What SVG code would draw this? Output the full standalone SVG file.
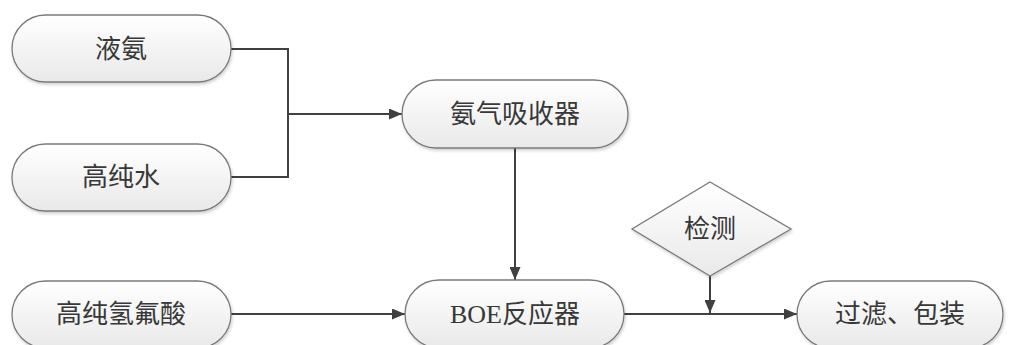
<svg xmlns="http://www.w3.org/2000/svg" width="1010" height="345" viewBox="0 0 1010 345">
  <defs>
    <linearGradient id="g" x1="0" y1="0" x2="0" y2="1">
      <stop offset="0" stop-color="#ffffff"/>
      <stop offset="1" stop-color="#e9e9e9"/>
    </linearGradient>
    <filter id="sh" x="-10%" y="-10%" width="130%" height="140%">
      <feDropShadow dx="1" dy="2" stdDeviation="1.5" flood-color="#000" flood-opacity="0.18"/>
    </filter>
    <marker id="arr" viewBox="0 0 13 11" refX="13" refY="5.5" markerWidth="13" markerHeight="11" markerUnits="userSpaceOnUse" orient="auto">
      <path d="M0,0 L13,5.5 L0,11 Z" fill="#404040"/>
    </marker>
  </defs>
  <style>
    .n { fill: url(#g); stroke: #7a7a7a; stroke-width: 1.3; filter: url(#sh); }
    .t { font-family: "Liberation Serif", "Noto Sans CJK SC", serif; font-size: 26px; fill: #383838; text-anchor: middle; dominant-baseline: central; }
    .c { fill: none; stroke: #404040; stroke-width: 2; }
  </style>
  <rect width="1010" height="345" fill="#ffffff"/>

  <g id="connectors">
    <path class="c" d="M231,49 H288 V177 H231"/>
    <path class="c" d="M288,114 H402" marker-end="url(#arr)"/>
    <path class="c" d="M515,148 V280" marker-end="url(#arr)"/>
    <path class="c" d="M231,314 H405" marker-end="url(#arr)"/>
    <path class="c" d="M624,314 H797" marker-end="url(#arr)"/>
    <path class="c" d="M710,276 V313" marker-end="url(#arr)"/>
  </g>

  <g id="n-yean">
    <rect class="n" x="12" y="15" width="219" height="67" rx="33.5"/>
    <text class="t" x="121" y="49">液氨</text>
  </g>
  <g id="n-gaochunshui">
    <rect class="n" x="12" y="144" width="219" height="67" rx="33.5"/>
    <text class="t" x="121" y="177">高纯水</text>
  </g>
  <g id="n-xishouqi">
    <rect class="n" x="402" y="80" width="226" height="68" rx="34"/>
    <text class="t" x="515" y="114">氨气吸收器</text>
  </g>
  <g id="n-hf">
    <rect class="n" x="12" y="281" width="219" height="67" rx="33.5"/>
    <text class="t" x="121" y="314">高纯氢氟酸</text>
  </g>
  <g id="n-boe">
    <rect class="n" x="405" y="280" width="219" height="68" rx="34"/>
    <text class="t" x="515" y="314">BOE反应器</text>
  </g>
  <g id="n-jiance">
    <polygon class="n" points="710,182 791,229 710,276 632,229"/>
    <text class="t" x="710" y="229">检测</text>
  </g>
  <g id="n-guolv">
    <rect class="n" x="797" y="281" width="206" height="67" rx="33.5"/>
    <text class="t" x="900" y="314">过滤、包装</text>
  </g>
</svg>
